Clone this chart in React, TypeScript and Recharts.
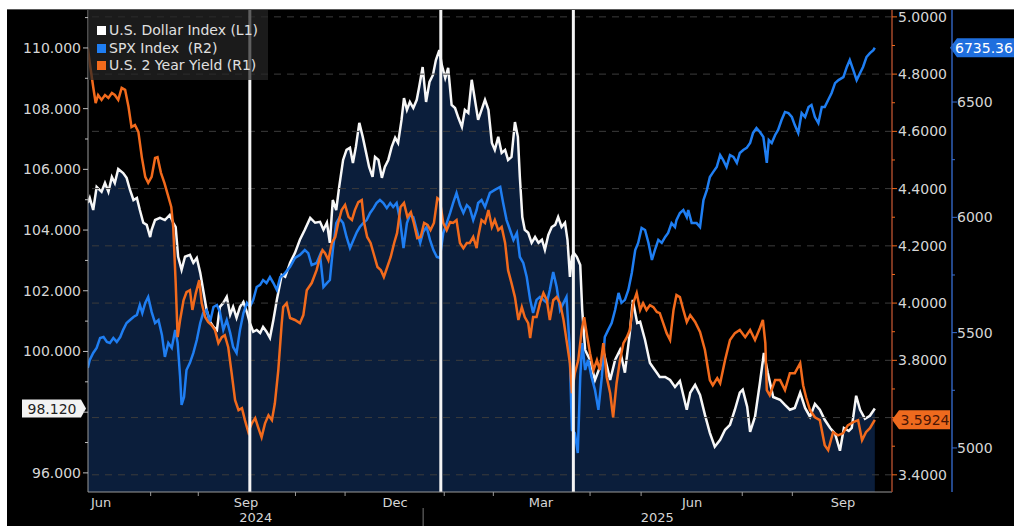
import React from "react";
import { ComposedChart, Area, Line, XAxis, YAxis, ReferenceLine } from "recharts";

const FONT = "'DejaVu Sans', sans-serif";

// x = months since mid-June 2024
const usdT = [-0.33,-0.29,-0.22,-0.15,-0.05,0.02,0.09,0.16,0.22,0.29,0.39,0.46,0.53,0.6,0.67,0.73,0.8,0.87,0.94,0.97,1.04,1.14,1.24,1.34,1.41,1.46,1.51,1.58,1.65,1.75,1.82,1.89,1.96,2.02,2.09,2.16,2.23,2.3,2.36,2.43,2.5,2.57,2.63,2.7,2.77,2.84,2.91,2.97,3.04,3.11,3.18,3.24,3.31,3.38,3.45,3.52,3.62,3.69,3.79,3.89,3.99,4.09,4.2,4.3,4.4,4.47,4.54,4.6,4.66,4.73,4.79,4.87,4.94,5.01,5.07,5.13,5.2,5.27,5.34,5.4,5.47,5.52,5.59,5.66,5.72,5.79,5.86,5.93,5.99,6.06,6.11,6.17,6.23,6.3,6.37,6.42,6.49,6.56,6.63,6.7,6.76,6.83,6.88,6.95,7.01,7.08,7.15,7.22,7.29,7.35,7.42,7.49,7.62,7.69,7.76,7.83,7.9,7.96,8.03,8.1,8.17,8.23,8.3,8.37,8.43,8.47,8.52,8.57,8.64,8.71,8.78,8.85,8.92,8.98,9.05,9.12,9.19,9.25,9.32,9.39,9.44,9.49,9.53,9.57,9.63,9.7,9.74,9.8,9.9,10,10.1,10.2,10.31,10.41,10.51,10.61,10.71,10.77,10.86,10.92,11.02,11.12,11.22,11.32,11.43,11.53,11.63,11.73,11.87,11.94,12.04,12.14,12.24,12.34,12.44,12.55,12.65,12.75,12.85,12.95,13.01,13.1,13.16,13.26,13.36,13.44,13.52,13.63,13.77,13.87,13.97,14.07,14.18,14.28,14.38,14.48,14.58,14.68,14.79,14.89,14.99,15.07,15.17,15.23,15.32,15.4,15.5,15.6,15.7];
const usdV = [104.89,105.06,104.66,105.42,105.26,105.55,105.26,105.75,105.55,106.01,105.88,105.72,105.32,104.99,105.06,104.66,104.24,104.17,103.77,104.01,104.33,104.4,104.33,104.5,104.24,104.1,103.12,102.69,103.12,103.18,102.92,103.08,102.59,102.03,101.37,100.98,100.81,100.71,101.47,101.6,101.8,101.21,101.47,101.11,101.47,101.63,101.3,100.94,100.65,100.71,100.61,100.81,100.65,100.45,101.04,101.7,102.52,102.46,102.92,103.25,103.68,104.01,104.4,104.24,104.27,104.01,104.24,103.58,104.99,104.66,105.42,106.31,106.64,106.71,106.21,106.74,107.53,107.07,106.54,106.08,105.75,106.41,106.31,105.72,106.08,106.31,106.74,107.04,106.87,107.63,108.35,107.96,108.22,108.02,108.29,108.72,109.37,108.22,108.88,109.11,109.6,109.93,109.44,109.01,109.34,108.12,108.02,107.69,107.4,107.96,107.86,108.95,107.63,107.96,108.29,107.96,106.87,106.64,107.07,106.54,106.64,106.31,106.41,107.56,107.07,105.75,104.43,104.01,103.91,103.58,103.77,103.58,103.68,103.35,103.84,104.1,104.17,104.43,104.1,104.24,103.68,102.46,103.12,103.25,103.12,102.85,101.37,100.05,99.72,99.06,99.49,99.82,99.06,99.72,100.05,99.3,100.61,101.7,100.94,100.98,100.38,99.62,99.39,99.16,99.16,99.06,98.83,99.03,98.08,98.64,98.9,98.57,97.91,97.32,96.86,97.09,97.42,97.58,98.08,98.64,98.74,98.18,97.35,97.85,98.97,99.95,99.3,98.5,98.41,98.24,98.08,98.14,98.64,98.14,97.85,98.27,98.08,97.75,97.48,97.29,96.73,97.48,97.38,97.48,98.54,98.08,97.78,97.88,98.12];

const y2T = [-0.33,-0.29,-0.22,-0.17,-0.12,-0.05,0.02,0.09,0.16,0.22,0.29,0.36,0.43,0.5,0.56,0.63,0.7,0.77,0.84,0.9,0.97,1.04,1.09,1.16,1.23,1.3,1.37,1.41,1.46,1.5,1.55,1.62,1.68,1.75,1.8,1.87,1.94,1.99,2.06,2.12,2.19,2.26,2.33,2.4,2.46,2.53,2.6,2.67,2.74,2.81,2.87,2.94,3.01,3.08,3.14,3.21,3.28,3.35,3.42,3.48,3.55,3.62,3.65,3.72,3.79,3.89,3.99,4.06,4.13,4.23,4.33,4.4,4.45,4.5,4.57,4.64,4.71,4.77,4.84,4.91,4.98,5.05,5.11,5.18,5.25,5.3,5.36,5.43,5.5,5.57,5.64,5.7,5.77,5.84,5.91,5.97,6.04,6.11,6.18,6.25,6.31,6.38,6.45,6.52,6.59,6.65,6.72,6.79,6.84,6.91,6.98,7.05,7.11,7.18,7.25,7.32,7.39,7.45,7.52,7.59,7.62,7.69,7.76,7.83,7.9,7.96,8.03,8.1,8.17,8.23,8.3,8.37,8.44,8.51,8.57,8.64,8.68,8.74,8.81,8.88,8.95,9.02,9.08,9.15,9.22,9.29,9.36,9.42,9.49,9.53,9.59,9.66,9.73,9.78,9.83,9.9,9.97,10.04,10.1,10.17,10.24,10.31,10.37,10.44,10.51,10.58,10.65,10.71,10.78,10.85,10.92,10.98,11.05,11.12,11.19,11.26,11.32,11.39,11.46,11.53,11.6,11.66,11.73,11.8,11.87,11.94,12.04,12.14,12.24,12.34,12.4,12.49,12.55,12.65,12.75,12.85,12.95,13.06,13.16,13.26,13.36,13.42,13.47,13.5,13.56,13.67,13.77,13.87,13.97,14.07,14.18,14.24,14.3,14.38,14.48,14.58,14.68,14.75,14.85,14.95,15.05,15.15,15.26,15.36,15.44,15.52,15.6,15.7];
const y2V = [4.892,4.839,4.755,4.699,4.727,4.71,4.727,4.717,4.734,4.727,4.71,4.752,4.745,4.685,4.615,4.622,4.598,4.51,4.441,4.42,4.441,4.507,4.51,4.455,4.42,4.378,4.336,4.266,4.07,3.881,3.941,4.01,4.038,4.045,3.976,4.035,4.08,4.0,3.951,3.934,3.923,3.906,3.86,3.881,3.888,3.846,3.755,3.661,3.626,3.633,3.591,3.549,3.58,3.598,3.566,3.531,3.58,3.608,3.591,3.65,3.766,3.93,3.986,4.0,3.948,3.941,3.93,3.958,4.045,4.07,4.115,4.161,4.185,4.175,4.15,4.21,4.231,4.28,4.325,4.343,4.301,4.29,4.325,4.353,4.36,4.28,4.231,4.21,4.168,4.126,4.115,4.091,4.126,4.161,4.21,4.245,4.336,4.35,4.301,4.318,4.28,4.227,4.231,4.28,4.273,4.255,4.28,4.367,4.36,4.28,4.255,4.283,4.28,4.29,4.21,4.192,4.21,4.21,4.231,4.192,4.231,4.29,4.28,4.325,4.266,4.29,4.255,4.266,4.21,4.115,4.07,4.021,3.941,3.986,3.951,3.93,3.878,3.951,3.951,4.0,4.035,4.01,3.941,4.01,4.021,4.0,3.941,3.871,3.79,3.685,3.755,3.801,3.906,3.951,3.895,3.825,3.766,3.801,3.766,3.86,3.741,3.685,3.601,3.72,3.801,3.86,3.881,3.906,4.0,4.035,3.976,4.0,3.976,3.993,3.986,3.969,3.965,3.93,3.895,3.871,3.976,4.028,4.021,3.976,3.934,3.958,3.934,3.899,3.836,3.731,3.713,3.738,3.72,3.801,3.871,3.895,3.906,3.881,3.906,3.871,3.913,3.941,3.86,3.696,3.678,3.731,3.731,3.696,3.755,3.755,3.79,3.713,3.671,3.626,3.601,3.591,3.503,3.486,3.549,3.538,3.545,3.573,3.584,3.591,3.521,3.549,3.563,3.5924];

const spxT = [-0.33,-0.29,-0.22,-0.15,-0.08,-0.01,0.06,0.12,0.19,0.26,0.33,0.39,0.46,0.53,0.6,0.67,0.73,0.78,0.84,0.9,0.97,1.04,1.11,1.18,1.24,1.31,1.38,1.45,1.5,1.55,1.58,1.63,1.68,1.75,1.82,1.89,1.96,2.02,2.09,2.16,2.23,2.3,2.36,2.43,2.5,2.57,2.63,2.7,2.77,2.84,2.91,2.97,3.04,3.11,3.18,3.24,3.31,3.38,3.45,3.52,3.59,3.65,3.69,3.79,3.89,3.99,4.09,4.16,4.23,4.33,4.4,4.47,4.54,4.6,4.66,4.73,4.79,4.87,4.94,5.01,5.08,5.15,5.21,5.28,5.35,5.42,5.49,5.55,5.62,5.69,5.76,5.83,5.89,5.96,6.03,6.1,6.17,6.23,6.3,6.37,6.44,6.5,6.57,6.64,6.71,6.78,6.84,6.91,6.98,7.05,7.11,7.18,7.25,7.32,7.39,7.45,7.52,7.59,7.62,7.69,7.76,7.86,7.96,8.07,8.13,8.2,8.27,8.34,8.41,8.47,8.54,8.61,8.68,8.74,8.81,8.88,8.95,9.02,9.08,9.15,9.22,9.29,9.36,9.42,9.48,9.53,9.59,9.65,9.7,9.74,9.8,9.86,9.93,10,10.07,10.14,10.2,10.27,10.34,10.41,10.48,10.54,10.61,10.68,10.75,10.82,10.88,10.95,11.02,11.09,11.16,11.22,11.29,11.36,11.43,11.49,11.56,11.63,11.66,11.73,11.8,11.87,11.9,11.97,12.07,12.14,12.21,12.28,12.34,12.41,12.48,12.55,12.61,12.68,12.75,12.82,12.89,12.95,13.02,13.09,13.16,13.22,13.29,13.36,13.43,13.5,13.54,13.6,13.67,13.73,13.8,13.87,13.94,14.01,14.07,14.14,14.21,14.28,14.35,14.41,14.48,14.55,14.62,14.68,14.75,14.82,14.89,14.96,15.06,15.13,15.19,15.26,15.33,15.4,15.46,15.53,15.6,15.67,15.7];
const spxV = [5347,5382,5412,5434,5477,5481,5460,5455,5477,5460,5481,5512,5542,5555,5568,5577,5620,5585,5629,5655,5590,5542,5555,5490,5395,5455,5434,5512,5455,5308,5187,5221,5338,5369,5412,5468,5542,5585,5598,5546,5611,5620,5590,5512,5555,5499,5438,5412,5512,5585,5629,5611,5642,5698,5707,5728,5715,5741,5715,5685,5741,5750,5759,5785,5824,5837,5858,5845,5793,5802,5837,5698,5715,5728,5858,5975,5997,5975,5915,5867,5902,5936,5958,5975,5988,6019,6040,6062,6075,6062,6040,6062,6045,6062,5988,5867,5975,6010,6001,5945,5889,5936,5958,5902,5858,5828,5824,5932,5975,6019,6062,6106,6053,6019,6053,6040,5988,6032,6062,6075,6045,6106,6119,6132,6062,5988,5945,5902,5932,5828,5802,5741,5642,5585,5642,5655,5642,5629,5685,5763,5698,5598,5629,5655,5455,5078,5065,4978,5308,5455,5338,5382,5308,5252,5165,5308,5481,5512,5542,5598,5672,5629,5642,5685,5759,5858,5889,5954,5945,5889,5815,5858,5902,5889,5915,5932,5975,5958,5988,6019,6032,6001,6032,5975,5975,5958,6075,6119,6175,6197,6218,6270,6249,6218,6270,6262,6236,6279,6292,6301,6322,6366,6387,6370,6348,6236,6335,6322,6357,6379,6422,6457,6452,6435,6400,6366,6452,6435,6478,6487,6435,6409,6478,6478,6509,6539,6582,6595,6608,6652,6682,6639,6595,6626,6652,6695,6712,6725,6735.36];

const leftTicks = [96, 97, 98, 99, 100, 101, 102, 103, 104, 105, 106, 107, 108, 109, 110, 111];
const leftLabeled = [96, 98, 100, 102, 104, 106, 108, 110];
const r1Ticks = [3.4, 3.5, 3.6, 3.7, 3.8, 3.9, 4.0, 4.1, 4.2, 4.3, 4.4, 4.5, 4.6, 4.7, 4.8, 4.9, 5.0];
const r1Labeled = [3.4, 3.6, 3.8, 4.0, 4.2, 4.4, 4.6, 4.8, 5.0];
const r2Ticks = [5000, 5250, 5500, 5750, 6000, 6250, 6500, 6750];
const r2Labeled = [5000, 5500, 6000, 6500];
const monthTicks = [-0.06, 2.89, 5.93, 8.9, 11.98, 15.05];
const monthLabels = ["Jun", "Sep", "Dec", "Mar", "Jun", "Sep"];
const monthMinor = [0.95, 1.92, 3.9, 4.91, 6.93, 7.93, 9.9, 10.94, 13.0, 14.02];
const yearTicks = [3.09, 6.5, 11.27];
const yearLabels = ["2024", "", "2025"];
const markerT = [2.97, 6.86, 9.56];
const lastUsd = 98.12;
const lastY2 = 3.5924;
const lastSpx = 6735.36;

const usdData = usdT.map((t, i) => ({ t, v: usdV[i] }));
const y2Data = y2T.map((t, i) => ({ t, v: y2V[i] }));
const spxData = spxT.map((t, i) => ({ t, v: spxV[i] }));

const X_DOMAIN: [number, number] = [-0.326, 16.05];
const TXT = "#d6d6d6";
const NAVY = "#0b1e3b";
const BLUE = "#1f7ef2";
const ORANGE = "#f26a1c";

const near = (arr: number[], v: number) => arr.some((m) => Math.abs(m - v) < 1e-6);

const LeftTick = (p: any) => {
  const { x, y, payload } = p;
  const v = payload.value;
  const major = near(leftLabeled, v);
  const hidden = Math.abs(v - lastUsd) < 0.5;
  return (
    <g>
      <line x1={x} x2={x - (major ? 5 : 3)} y1={y} y2={y} stroke="#bdbdbd" strokeWidth={1} />
      {major && !hidden && (
        <text x={x - 7} y={y + 5} textAnchor="end" fill={TXT} fontSize={14} fontFamily={FONT}>
          {v.toFixed(3)}
        </text>
      )}
    </g>
  );
};

const R1Tick = (p: any) => {
  const { x, y, payload } = p;
  const v = payload.value;
  const major = near(r1Labeled, v);
  const hidden = Math.abs(v - lastY2) < 0.05;
  return (
    <g>
      <line x1={x} x2={x + (major ? 5 : 3)} y1={y} y2={y} stroke={ORANGE} strokeWidth={1} />
      {major && !hidden && (
        <text x={x + 6} y={y + 5} textAnchor="start" fill={TXT} fontSize={14} fontFamily={FONT}>
          {v.toFixed(4)}
        </text>
      )}
    </g>
  );
};

const R2Tick = (p: any) => {
  const { x, y, payload } = p;
  const v = payload.value;
  const major = near(r2Labeled, v);
  return (
    <g>
      <line x1={x} x2={x + (major ? 5 : 3)} y1={y} y2={y} stroke="#3a6fd0" strokeWidth={1} />
      {major && (
        <text x={x + 5} y={y + 5} textAnchor="start" fill={TXT} fontSize={14} fontFamily={FONT}>
          {String(v)}
        </text>
      )}
    </g>
  );
};

const MonthTick = (p: any) => {
  const { x, y, payload } = p;
  const idx = monthTicks.indexOf(payload.value);
  if (idx < 0) {
    return <line x1={x} x2={x} y1={y} y2={y + 4} stroke="#9a9a9a" strokeWidth={1} />;
  }
  return (
    <text x={x} y={y + 15} textAnchor="middle" fill={TXT} fontSize={13} fontFamily={FONT}>
      {monthLabels[idx]}
    </text>
  );
};

const YearTick = (p: any) => {
  const { x, y, payload } = p;
  const idx = yearTicks.indexOf(payload.value);
  const label = yearLabels[idx];
  if (!label) {
    return <line x1={x} x2={x} y1={y - 2} y2={y + 18} stroke="#777" strokeWidth={1} />;
  }
  return (
    <text x={x} y={y + 12} textAnchor="middle" fill={TXT} fontSize={13} fontFamily={FONT}>
      {label}
    </text>
  );
};

const UsdTag = (p: any) => {
  const vb = p.viewBox || {};
  const x = vb.x;
  const y = vb.y;
  if (x == null || y == null) return null;
  const pts = `${x - 66},${y - 9} ${x - 7},${y - 9} ${x - 2},${y} ${x - 7},${y + 9} ${x - 66},${y + 9}`;
  return (
    <g>
      <polygon points={pts} fill="#f2f2f2" />
      <text x={x - 36} y={y + 5} textAnchor="middle" fill="#222" fontSize={14} fontFamily={FONT}>
        {lastUsd.toFixed(3)}
      </text>
    </g>
  );
};

const Y2Tag = (p: any) => {
  const vb = p.viewBox || {};
  if (vb.x == null || vb.y == null) return null;
  const x = vb.x + vb.width;
  const y = vb.y;
  const pts = `${x},${y} ${x + 7},${y - 9.5} ${x + 58},${y - 9.5} ${x + 58},${y + 9.5} ${x + 7},${y + 9.5}`;
  return (
    <g>
      <polygon points={pts} fill="#ee6a1e" />
      <text x={x + 33} y={y + 5} textAnchor="middle" fill="#4a1605" fontSize={14} fontFamily={FONT}>
        {lastY2.toFixed(4)}
      </text>
    </g>
  );
};

const SpxTag = (p: any) => {
  const vb = p.viewBox || {};
  if (vb.x == null || vb.y == null) return null;
  const x = vb.x + vb.width + 58;
  const y = vb.y;
  const pts = `${x},${y} ${x + 7},${y - 9.5} ${x + 80},${y - 9.5} ${x + 80},${y + 9.5} ${x + 7},${y + 9.5}`;
  return (
    <g>
      <polygon points={pts} fill="#1f6fde" />
      <text x={x + 5} y={y + 5} textAnchor="start" fill="#ffffff" fontSize={14} fontFamily={FONT}>
        {lastSpx.toFixed(2)}
      </text>
    </g>
  );
};

const legendItems = [
  { label: "U.S. Dollar Index (L1)", color: "#ffffff" },
  { label: "SPX Index  (R2)", color: BLUE },
  { label: "U.S. 2 Year Yield (R1)", color: ORANGE },
];

export default function App() {
  return (
    <div
      style={{
        position: "fixed",
        left: 7,
        top: 9,
        width: 1007,
        height: 517,
        background: "#000",
        borderTop: "1px solid #5a5a5a",
        boxSizing: "border-box",
        overflow: "hidden",
      }}
    >
      <ComposedChart
        width={1007}
        height={516}
        margin={{ top: 0, right: 0, bottom: 0, left: 0 }}
        style={{ background: "#000" }}
      >
        <XAxis
          xAxisId="m"
          type="number"
          dataKey="t"
          domain={X_DOMAIN}
          allowDataOverflow
          ticks={[...monthTicks, ...monthMinor].sort((a, b) => a - b)}
          interval={0}
          tick={<MonthTick />}
          tickLine={false}
          tickSize={0}
          tickMargin={0}
          axisLine={{ stroke: "#9a9a9a", strokeWidth: 1 }}
          height={18}
        />
        <XAxis
          xAxisId="yr"
          type="number"
          dataKey="t"
          domain={X_DOMAIN}
          allowDataOverflow
          ticks={yearTicks}
          interval={0}
          tick={<YearTick />}
          tickLine={false}
          tickSize={0}
          tickMargin={0}
          axisLine={false}
          height={16}
        />
        <YAxis
          yAxisId="left"
          orientation="left"
          type="number"
          domain={[95.37, 111.25]}
          allowDataOverflow
          ticks={leftTicks}
          interval={0}
          tick={<LeftTick />}
          tickLine={false}
          tickSize={0}
          tickMargin={0}
          axisLine={{ stroke: "#9a9a9a", strokeWidth: 1 }}
          width={81}
        />
        <YAxis
          yAxisId="r1"
          orientation="right"
          type="number"
          domain={[3.34, 5.024]}
          allowDataOverflow
          ticks={r1Ticks}
          interval={0}
          tick={<R1Tick />}
          tickLine={false}
          tickSize={0}
          tickMargin={0}
          axisLine={{ stroke: "#a4492a", strokeWidth: 1.5 }}
          width={60}
        />
        <YAxis
          yAxisId="r2"
          orientation="right"
          type="number"
          domain={[4809, 6899]}
          allowDataOverflow
          ticks={r2Ticks}
          interval={0}
          tick={<R2Tick />}
          tickLine={false}
          tickSize={0}
          tickMargin={0}
          axisLine={{ stroke: "#2f5fb8", strokeWidth: 1.5 }}
          width={62}
        />

        <Area
          xAxisId="m"
          yAxisId="left"
          data={usdData}
          dataKey="v"
          type="linear"
          stroke="#f7f7f7"
          strokeWidth={2.5}
          fill={NAVY}
          fillOpacity={1}
          dot={false}
          activeDot={false}
          isAnimationActive={false}
        />

        {r1Labeled.map((v) => (
          <ReferenceLine
            key={"g" + v}
            xAxisId="m"
            yAxisId="r1"
            y={v}
            stroke="#3c3c3c"
            strokeDasharray="7 6"
            strokeWidth={1}
          />
        ))}

        <Line
          xAxisId="m"
          yAxisId="r2"
          data={spxData}
          dataKey="v"
          type="linear"
          stroke={BLUE}
          strokeWidth={2.5}
          dot={false}
          activeDot={false}
          isAnimationActive={false}
        />
        <Line
          xAxisId="m"
          yAxisId="r1"
          data={y2Data}
          dataKey="v"
          type="linear"
          stroke={ORANGE}
          strokeWidth={2.5}
          dot={false}
          activeDot={false}
          isAnimationActive={false}
        />

        {markerT.map((t) => (
          <ReferenceLine key={"m" + t} xAxisId="m" yAxisId="left" x={t} stroke="#f4f4f4" strokeWidth={3} />
        ))}

        <ReferenceLine xAxisId="m" yAxisId="left" y={lastUsd} stroke="none" label={<UsdTag />} />
        <ReferenceLine xAxisId="m" yAxisId="r1" y={lastY2} stroke="none" label={<Y2Tag />} />
        <ReferenceLine xAxisId="m" yAxisId="r2" y={lastSpx} stroke="none" label={<SpxTag />} />
      </ComposedChart>

      <div
        style={{
          position: "absolute",
          left: 81,
          top: 0,
          width: 180,
          height: 70,
          background: "rgba(38,38,38,0.72)",
          padding: "12px 0 0 9px",
          boxSizing: "border-box",
          fontFamily: FONT,
          fontSize: 14,
          color: "#e0e0e0",
          lineHeight: "17.5px",
        }}
      >
        {legendItems.map((it) => (
          <div key={it.label} style={{ display: "flex", alignItems: "center", whiteSpace: "pre" }}>
            <span style={{ width: 9, height: 9, background: it.color, marginRight: 3, display: "inline-block" }} />
            <span>{it.label}</span>
          </div>
        ))}
      </div>
    </div>
  );
}
